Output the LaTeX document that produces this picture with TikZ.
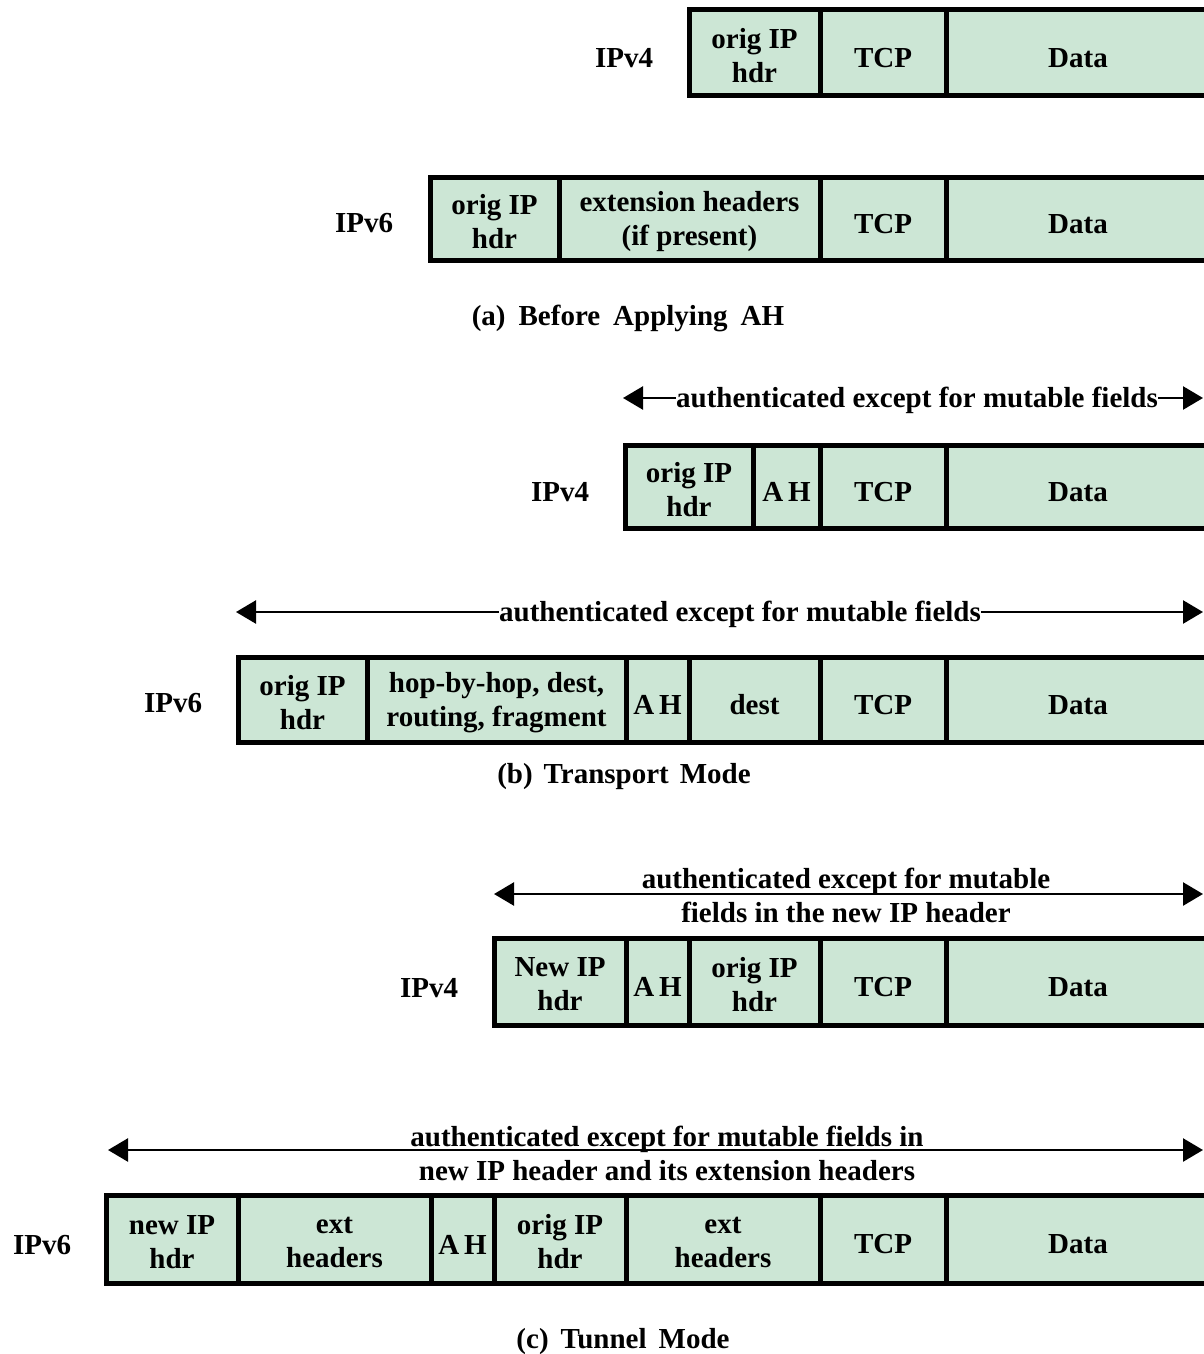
\documentclass[tikz,border=0pt]{standalone}
\usepackage{fontspec}
\setmainfont{Liberation Serif}
\usetikzlibrary{arrows.meta}
\definecolor{cellfill}{RGB}{204,230,213}
\newcommand\mainfnt{\fontsize{29}{34}\selectfont\bfseries}
\newcommand\mycell[7][-5.5]{%
  \node[cellbox, minimum width={(#4-#3)*1pt}, minimum height={(#6-#5)*1pt}] (#2) at ({(#3+#4)/2},{(#5+#6)/2}) {};
  \node[lbl] (#2t) at ([yshift=#1pt]#2.center) {#7};}
\newcommand\wsp[1]{\hspace{#1pt}}
\begin{document}
\begin{tikzpicture}[x=1pt,y=-1pt,
  cellbox/.style={draw, line width=5pt, fill=cellfill, inner sep=0pt},
  lbl/.style={inner sep=0pt, align=center, font=\mainfnt},
  authar/.style={line width=2.5pt, {Triangle[length=20pt,width=23pt]}-{Triangle[length=20pt,width=23pt]}},
  captxt/.style={inner sep=0pt, font=\mainfnt}]
\useasboundingbox[fill=white] (0,0) rectangle (1203,1354);

% (a) IPv4
\node[lbl] (a4l) at (624,58) {IPv4};
\mycell[-3]{a4c1}{689}{820}{10}{95}{orig IP\\hdr}
\mycell{a4c2}{820}{946}{10}{95}{TCP}
\mycell{a4c3}{946}{1210}{10}{95}{Data}
% (a) IPv6
\node[lbl] (a6l) at (364,223) {IPv6};
\mycell[-3]{a6c1}{430}{559}{177}{260}{orig IP\\hdr}
\mycell[-3]{a6c2}{559}{820}{177}{260}{extension headers\\(if present)}
\mycell{a6c3}{820}{946}{177}{260}{TCP}
\mycell{a6c4}{946}{1210}{177}{260}{Data}
\node[captxt] (capa) at (628,318) {(a)\wsp{13}Before\wsp{13}Applying\wsp{13}AH};

% (b) IPv4
\coordinate (b4L) at (623,398);
\coordinate (b4R) at (1203,398);
\draw[authar] (b4L) -- (b4R);
\node[lbl, fill=white, inner xsep=0.5pt, inner ysep=2pt] (b4t) at (917,400) {authenticated except for mutable fields};
\node[lbl] (b4l) at (560,492) {IPv4};
\mycell[-3]{b4c1}{625}{753}{445}{528}{orig IP\\hdr}
\mycell{b4c2}{753}{820}{445}{528}{A\,H}
\mycell{b4c3}{820}{946}{445}{528}{TCP}
\mycell{b4c4}{946}{1210}{445}{528}{Data}
% (b) IPv6
\coordinate (b6L) at (236,612);
\coordinate (b6R) at (1203,612);
\draw[authar] (b6L) -- (b6R);
\node[lbl, fill=white, inner xsep=0.5pt, inner ysep=2pt] (b6t) at (740,614) {authenticated except for mutable fields};
\node[lbl] (b6l) at (173,703) {IPv6};
\mycell[-3]{b6c1}{238}{367}{657}{742}{orig IP\\hdr}
\mycell[-3]{b6c2}{367}{626}{657}{742}{hop-by-hop, dest,\\routing, fragment}
\mycell{b6c3}{626}{689}{657}{742}{A\,H}
\mycell{b6c4}{689}{820}{657}{742}{dest}
\mycell{b6c5}{820}{946}{657}{742}{TCP}
\mycell{b6c6}{946}{1210}{657}{742}{Data}
\node[captxt] (capb) at (624,777) {(b)\wsp{11}Transport\wsp{11}Mode};

% (c) IPv4
\coordinate (c4L) at (494,894);
\coordinate (c4R) at (1203,894);
\draw[authar] (c4L) -- (c4R);
\node[lbl] (c4t) at (846,895) {authenticated except for mutable\\fields in the new IP header};
\node[lbl] (c4l) at (429,988) {IPv4};
\mycell[-3]{c4c1}{494}{626}{938}{1025}{New IP\\hdr}
\mycell{c4c2}{626}{689}{938}{1025}{A\,H}
\mycell[-3]{c4c3}{689}{820}{938}{1025}{orig IP\\hdr}
\mycell{c4c4}{820}{946}{938}{1025}{TCP}
\mycell{c4c5}{946}{1210}{938}{1025}{Data}
% (c) IPv6
\coordinate (c6L) at (108,1150);
\coordinate (c6R) at (1203,1150);
\draw[authar] (c6L) -- (c6R);
\node[lbl] (c6t) at (667,1153) {authenticated except for mutable fields in\\new IP header and its extension headers};
\node[lbl] (c6l) at (42,1245) {IPv6};
\mycell[-3]{c6c1}{106}{238}{1195}{1283}{new IP\\hdr}
\mycell[-3]{c6c2}{238}{431}{1195}{1283}{ext\\headers}
\mycell{c6c3}{431}{494}{1195}{1283}{A\,H}
\mycell[-3]{c6c4}{494}{626}{1195}{1283}{orig IP\\hdr}
\mycell[-3]{c6c5}{626}{820}{1195}{1283}{ext\\headers}
\mycell{c6c6}{820}{946}{1195}{1283}{TCP}
\mycell{c6c7}{946}{1210}{1195}{1283}{Data}
\node[captxt] (capc) at (623,1342) {(c)\wsp{12}Tunnel\wsp{12}Mode};
\end{tikzpicture}
\end{document}
